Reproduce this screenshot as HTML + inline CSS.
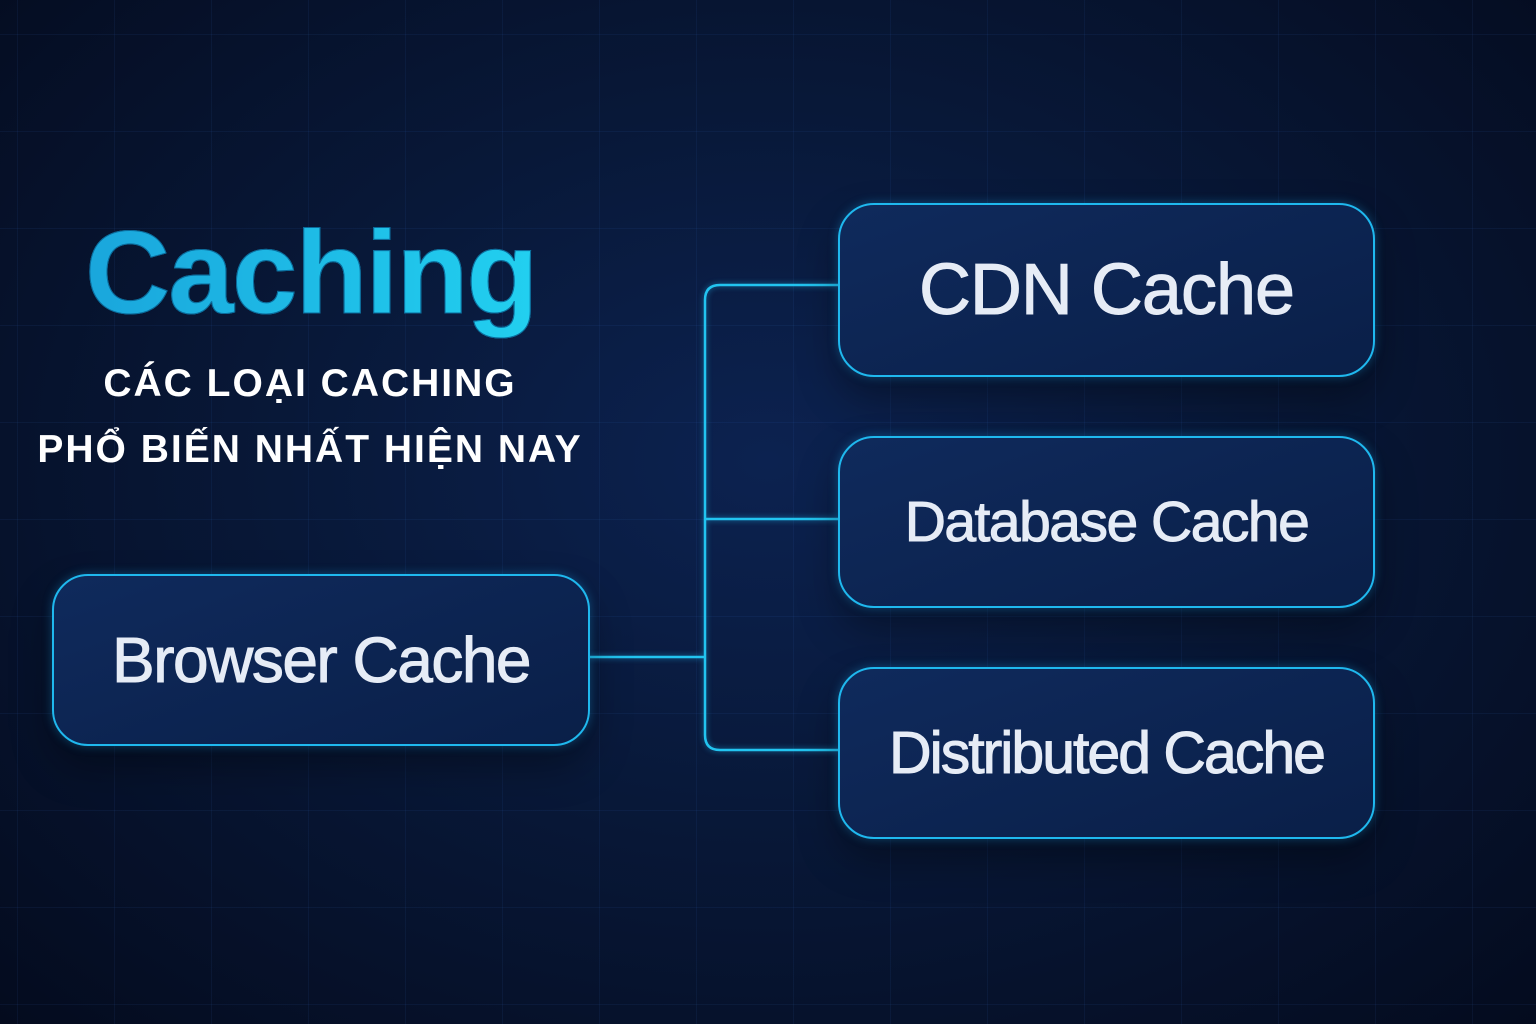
<!DOCTYPE html>
<html><head><meta charset="utf-8"><style>
html,body{margin:0;padding:0}
body{width:1536px;height:1024px;overflow:hidden;position:relative;font-family:"Liberation Sans",sans-serif;
background:radial-gradient(ellipse at 50% 45%,#0c2250 0%,#081838 45%,#040b1e 100%);}
.grid{position:absolute;inset:0;background-image:linear-gradient(rgba(60,120,220,0.08) 1px,transparent 1px),linear-gradient(90deg,rgba(60,120,220,0.08) 1px,transparent 1px);background-size:97px 97px;background-position:17px 34px}
.box{position:absolute;box-sizing:border-box;border:2.5px solid #1fb8ee;border-radius:36px;background:linear-gradient(160deg,#0f2a5c,#0a1f48);box-shadow:0 0 10px rgba(30,170,240,0.35),0 20px 40px rgba(0,0,0,0.35);color:#e6ecf6;display:flex;align-items:center;justify-content:center;letter-spacing:-1px;-webkit-text-stroke:1px #e6ecf6}
.t{position:absolute;left:0;width:620px;text-align:center;color:#fff;font-weight:bold;letter-spacing:2px}
</style></head><body>
<div class="grid"></div>
<div style="position:absolute;left:85px;top:205px;font-size:118px;font-weight:bold;letter-spacing:-2px;background:linear-gradient(90deg,#1aa6dc,#22d0f0);-webkit-background-clip:text;background-clip:text;color:transparent;-webkit-text-stroke:1px #0a6a9a">Caching</div>
<div class="t" style="top:362px;font-size:39px">CÁC LOẠI CACHING</div>
<div class="t" style="top:428px;font-size:39px">PHỔ BIẾN NHẤT HIỆN NAY</div>
<svg width="1536" height="1024" style="position:absolute;left:0;top:0">
<g fill="none" stroke="#22c4f0" stroke-width="2.5" style="filter:drop-shadow(0 0 3px rgba(30,180,240,0.6))">
<path d="M838 285 H720 Q705 285 705 300 V735 Q705 750 720 750 H838"/>
<path d="M705 519 H838"/>
<path d="M589 657 H705"/>
</g></svg>
<div class="box" style="left:838px;top:203px;width:537px;height:174px;font-size:72px">CDN Cache</div>
<div class="box" style="left:838px;top:436px;width:537px;height:172px;font-size:57px;letter-spacing:-1.5px">Database Cache</div>
<div class="box" style="left:838px;top:667px;width:537px;height:172px;font-size:59px;letter-spacing:-2px">Distributed Cache</div>
<div class="box" style="left:52px;top:574px;width:538px;height:172px;font-size:64px;letter-spacing:-1.5px">Browser Cache</div>
</body></html>
